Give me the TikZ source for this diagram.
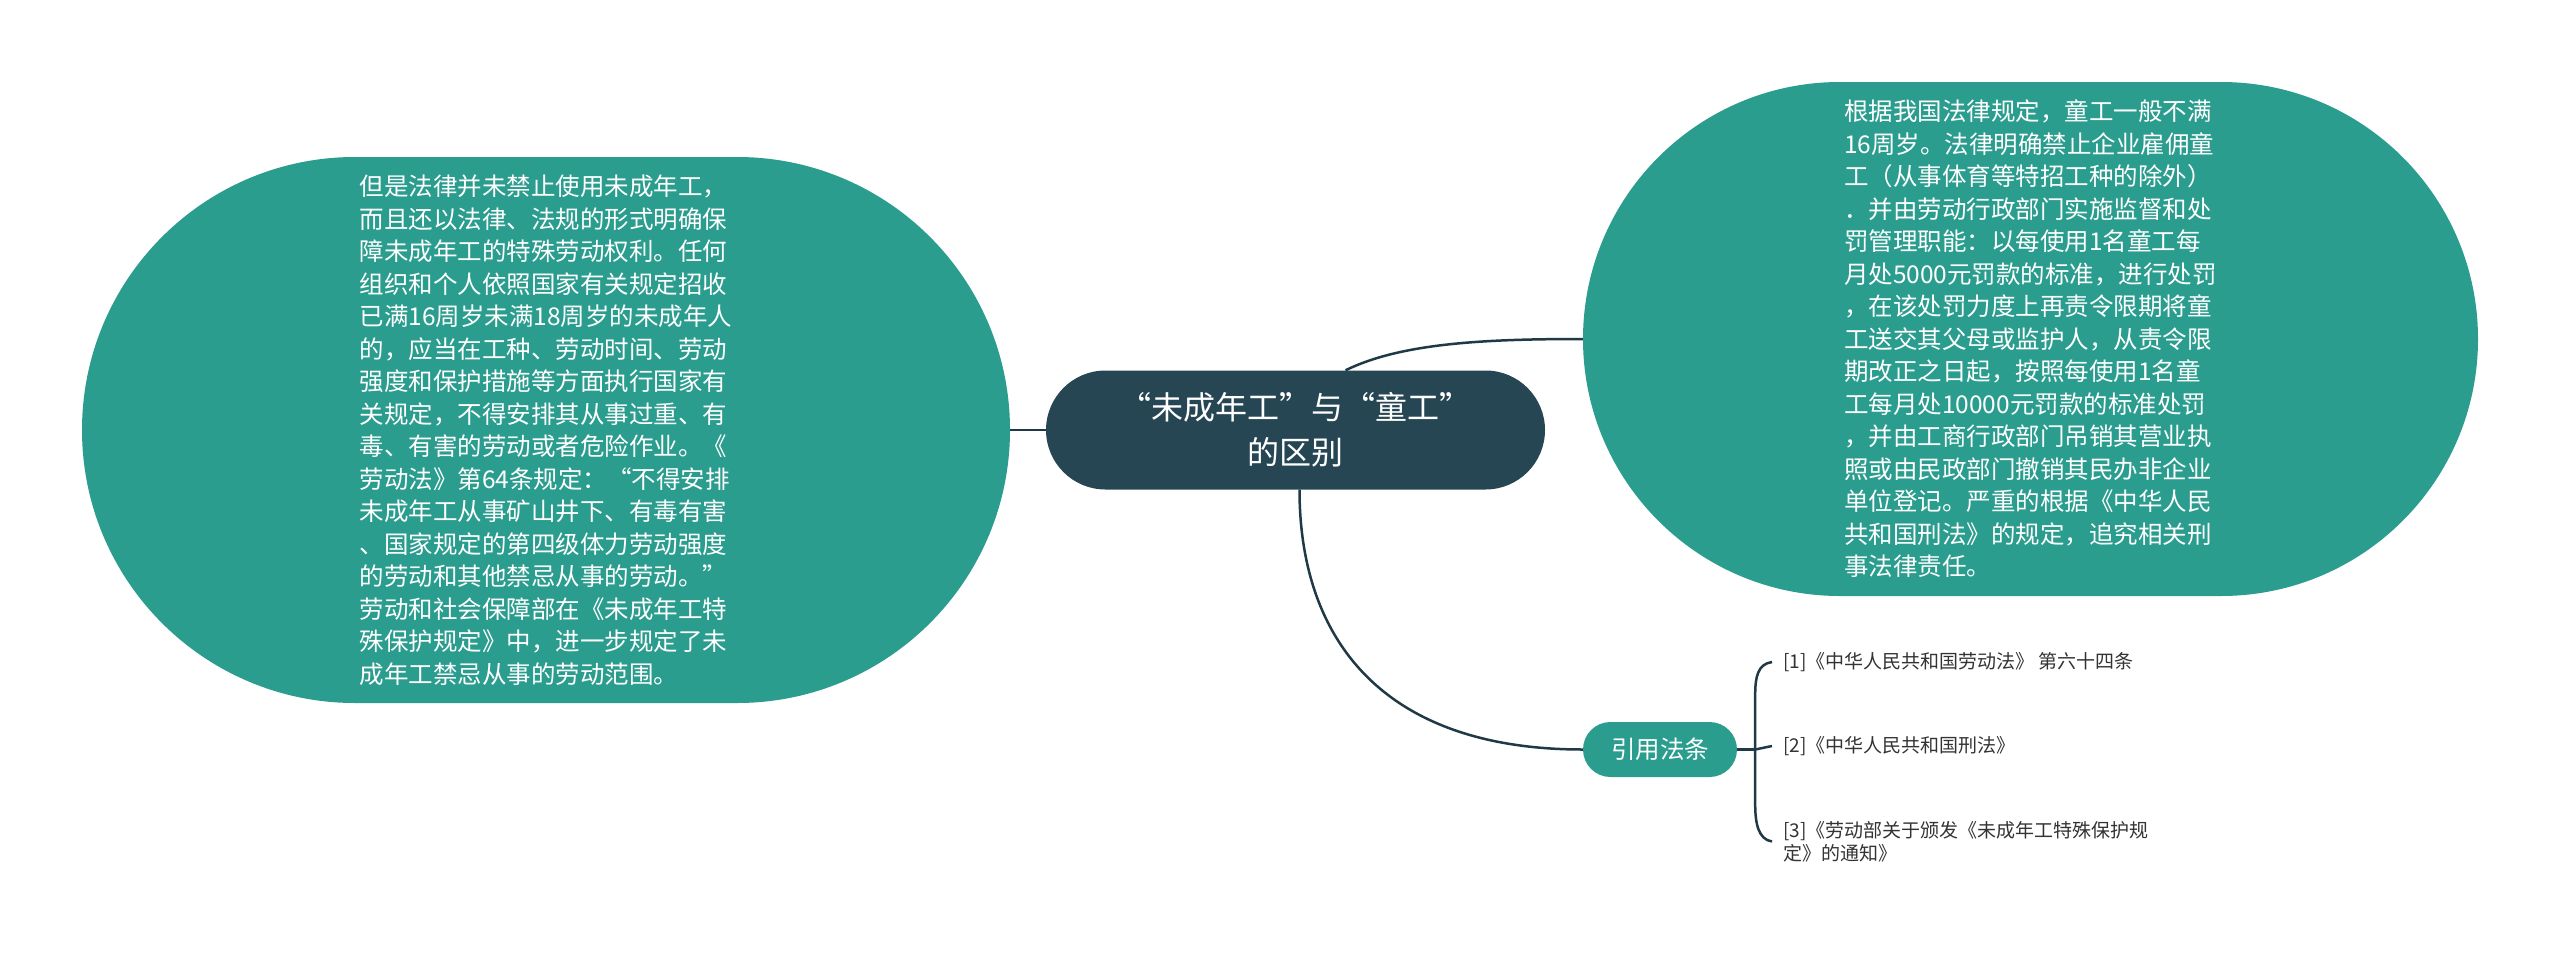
\documentclass[tikz,border=0pt]{standalone}
\usepackage{fontspec}
\setmainfont{Noto Sans CJK SC}
\usetikzlibrary{calc}
\definecolor{tealfill}{HTML}{2A9D8E}
\definecolor{darkfill}{HTML}{264653}
\definecolor{linec}{HTML}{1F3A46}
\definecolor{reftext}{HTML}{333333}
\pgfdeclarelayer{bg}
\pgfsetlayers{bg,main}
\begin{document}
\begin{tikzpicture}[x=1pt,y=-1pt,
  blob/.style={fill=tealfill, text=white, align=left, inner sep=0pt,
    font=\fontsize{24.5}{32.5}\selectfont},
  topic/.style={fill=darkfill, text=white, align=center, inner sep=0pt,
    minimum width=499pt, minimum height=119pt, rounded corners=59.5pt,
    font=\fontsize{32}{45}\selectfont},
  subtopic/.style={fill=tealfill, text=white, inner sep=0pt,
    minimum width=154pt, minimum height=55pt, rounded corners=27.5pt,
    font=\fontsize{24.5}{30}\selectfont},
  reftxt/.style={text=reftext, anchor=west, align=left, inner sep=0pt,
    font=\fontsize{19}{23}\selectfont},
  conn/.style={draw=linec, line width=2.5pt}]
\useasboundingbox (0,0) rectangle (2560,956);

\node[topic] (topic) at (1295.5,430) {“未成年工”与“童工”\\的区别};

\node[blob, minimum width=928pt, minimum height=546pt, rounded corners=273pt] (left) at (546,430) {但是法律并未禁止使用未成年工，\\
而且还以法律、法规的形式明确保\\
障未成年工的特殊劳动权利。任何\\
组织和个人依照国家有关规定招收\\
已满16周岁未满18周岁的未成年人\\
的，应当在工种、劳动时间、劳动\\
强度和保护措施等方面执行国家有\\
关规定，不得安排其从事过重、有\\
毒、有害的劳动或者危险作业。《\\
劳动法》第64条规定：“不得安排\\
未成年工从事矿山井下、有毒有害\\
、国家规定的第四级体力劳动强度\\
的劳动和其他禁忌从事的劳动。”\\
劳动和社会保障部在《未成年工特\\
殊保护规定》中，进一步规定了未\\
成年工禁忌从事的劳动范围。};

\node[blob, minimum width=895pt, minimum height=514pt, rounded corners=257pt] (right) at (2030.5,339) {根据我国法律规定，童工一般不满\\
16周岁。法律明确禁止企业雇佣童\\
工（从事体育等特招工种的除外）\\
．并由劳动行政部门实施监督和处\\
罚管理职能：以每使用1名童工每\\
月处5000元罚款的标准，进行处罚\\
，在该处罚力度上再责令限期将童\\
工送交其父母或监护人，从责令限\\
期改正之日起，按照每使用1名童\\
工每月处10000元罚款的标准处罚\\
，并由工商行政部门吊销其营业执\\
照或由民政部门撤销其民办非企业\\
单位登记。严重的根据《中华人民\\
共和国刑法》的规定，追究相关刑\\
事法律责任。};

\node[subtopic] (cite) at (1660,749.5) {引用法条};

\node[reftxt] (r1) at (1783,662) {[1]《中华人民共和国劳动法》 第六十四条};
\node[reftxt] (r2) at (1783,746) {[2]《中华人民共和国刑法》};
\node[reftxt] (r3) at (1783,841.5) {[3]《劳动部关于颁发《未成年工特殊保护规\\定》的通知》};

\coordinate (bx) at ($(cite.east)+(18,0)$);

\begin{pgfonlayer}{bg}
\fill[white] (0,0) rectangle (2560,956);
\draw[conn] (topic.west) -- (left.east);
\draw[conn] ($(topic.north)+(50,0)$) .. controls +(55,-27) and +(-100,0) .. (right.west);
\draw[conn] ($(topic.south)+(4,0)$) .. controls +(0,150) and +(-200,0) .. (cite.west);
\draw[conn] (cite.east) -- (bx);
\draw[conn] ($(r1.west)+(-11,0)$) .. controls +(-14,2) and +(0,-18) .. ($(bx)+(0,-55)$)
  -- ($(bx)+(0,55)$) .. controls +(0,18) and +(-14,-2) .. ($(r3.west)+(-11,0)$);
\draw[conn] (bx) -- ($(r2.west)+(-11,0)$);
\end{pgfonlayer}
\end{tikzpicture}
\end{document}
